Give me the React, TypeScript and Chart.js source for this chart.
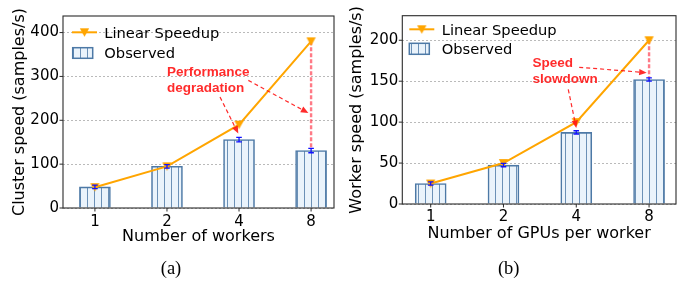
import React, { useEffect, useRef } from "react";
import { Chart, registerables } from "chart.js";
Chart.register(...registerables);

// ---------- Panel (a): cluster speed ----------
const workerCounts = ["1", "2", "4", "8"];
const clusterLinear = [47.5, 95, 190, 380];
const clusterObserved = [48, 95, 156, 131];
const clusterErr = [4, 4, 5, 5];
const clusterTicks = [0, 100, 200, 300, 400];

// ---------- Panel (b): worker speed ----------
const gpuCounts = ["1", "2", "4", "8"];
const workerLinear = [25, 50, 100, 200];
const workerObserved = [25, 47.5, 87.5, 152];
const workerErr = [2, 2, 2, 2];
const workerTicks = [0, 50, 100, 150, 200];

const ORANGE = "#ffa500";
const EDGE = "#4d79a6";
const FILL = "#eaf3fb";
const HATCH = "#6b90b6";
const RED = "rgba(255,20,20,0.9)";
const DROP = "rgba(255,40,60,0.62)";
const ERR = "#1010ff";
const SANS = "'DejaVu Sans', sans-serif";

type Arrow = { from: [number, number]; to: [number, number] };
interface Panel {
  labels: string[];
  linear: number[];
  observed: number[];
  err: number[];
  yTicks: number[];
  yMax: number;
  xMin: number;
  xMax: number;
  yTitle: string;
  xTitle: string;
  caption: string;
  captionX: number;
  width: number;
  yAxisWidth: number;
  padRight: number;
  padTop: number;
  plotBottom: number;
  yTitlePad: number;
  xTitlePadBottom: number;
  xTickPad: number;
  legend: {
    lineX1: number; lineX2: number; lineY: number; textX: number; text1Y: number;
    boxX: number; boxY: number; boxW: number; boxH: number; text2Y: number;
  };
  noteLines: string[];
  noteAt: [number, number];
  arrows: Arrow[];
  drop: { x: number; y1: number; y2: number };
}

const panelA: Panel = {
  labels: workerCounts,
  linear: clusterLinear,
  observed: clusterObserved,
  err: clusterErr,
  yTicks: clusterTicks,
  yMax: 437.8,
  xMin: -0.443,
  xMax: 3.318,
  yTitle: "Cluster speed (samples/s)",
  xTitle: "Number of workers",
  caption: "(a)",
  captionX: 171,
  width: 345,
  yAxisWidth: 63,
  padRight: 11,
  padTop: 16,
  plotBottom: 208,
  yTitlePad: 10.3,
  xTitlePadBottom: 1.5,
  xTickPad: -3.2,
  legend: { lineX1: 72, lineX2: 97, lineY: 32.3, textX: 104.3, text1Y: 37.7, boxX: 72.7, boxY: 47.7, boxW: 20, boxH: 10.6, text2Y: 57.7 },
  noteLines: ["Performance", "degradation"],
  noteAt: [1.0, 300],
  arrows: [
    { from: [1.736, 253], to: [1.99, 169.6] },
    { from: [2.129, 291], to: [2.962, 216.6] },
  ],
  drop: { x: 3, y1: 380, y2: 136 },
};

const panelB: Panel = {
  labels: gpuCounts,
  linear: workerLinear,
  observed: workerObserved,
  err: workerErr,
  yTicks: workerTicks,
  yMax: 230,
  xMin: -0.39,
  xMax: 3.37,
  yTitle: "Worker speed (samples/s)",
  xTitle: "Number of GPUs per worker",
  caption: "(b)",
  captionX: 163.7,
  width: 344,
  yAxisWidth: 57.3,
  padRight: 13,
  padTop: 15.7,
  plotBottom: 204,
  yTitlePad: 2.6,
  xTitlePadBottom: 4.8,
  xTickPad: -4.2,
  legend: { lineX1: 64.3, lineX2: 89.3, lineY: 29.3, textX: 96.7, text1Y: 35, boxX: 64.3, boxY: 43.3, boxW: 20, boxH: 11, text2Y: 54.3 },
  noteLines: ["Speed", "slowdown"],
  noteAt: [1.4, 167.3],
  arrows: [
    { from: [1.89, 140], to: [2.0, 92.8] },
    { from: [2.04, 167], to: [2.967, 160.4] },
  ],
  drop: { x: 3, y1: 200, y2: 154 },
};

const HEIGHT = 281;
const CHART_BOTTOM_PAD = 33;

function makeHatch(): CanvasPattern {
  const c = document.createElement("canvas");
  c.width = 7;
  c.height = 7;
  const g = c.getContext("2d")!;
  g.fillStyle = FILL;
  g.fillRect(0, 0, 7, 7);
  g.strokeStyle = HATCH;
  g.lineWidth = 1;
  g.beginPath();
  g.moveTo(3.5, 0);
  g.lineTo(3.5, 7);
  g.stroke();
  return g.createPattern(c, "repeat")!;
}

function makeMarker(): HTMLCanvasElement {
  const c = document.createElement("canvas");
  c.width = 11;
  c.height = 10;
  const g = c.getContext("2d")!;
  g.fillStyle = ORANGE;
  g.beginPath();
  g.moveTo(0.8, 1);
  g.lineTo(10.2, 1);
  g.lineTo(5.5, 9.5);
  g.closePath();
  g.fill();
  return c;
}

function drawArrow(ctx: CanvasRenderingContext2D, x1: number, y1: number, x2: number, y2: number) {
  const ang = Math.atan2(y2 - y1, x2 - x1);
  const hl = 7.5;
  const hw = 3.2;
  const bx = x2 - hl * Math.cos(ang);
  const by = y2 - hl * Math.sin(ang);
  ctx.save();
  ctx.strokeStyle = RED;
  ctx.lineWidth = 1.2;
  ctx.setLineDash([4, 3]);
  ctx.beginPath();
  ctx.moveTo(x1, y1);
  ctx.lineTo(bx, by);
  ctx.stroke();
  ctx.setLineDash([]);
  ctx.fillStyle = RED;
  ctx.beginPath();
  ctx.moveTo(x2, y2);
  ctx.lineTo(bx + hw * Math.sin(ang), by - hw * Math.cos(ang));
  ctx.lineTo(bx - hw * Math.sin(ang), by + hw * Math.cos(ang));
  ctx.closePath();
  ctx.fill();
  ctx.restore();
}

function buildChart(canvas: HTMLCanvasElement, p: Panel): Chart {
  const hatch = makeHatch();
  const marker = makeMarker();
  const idx = p.labels.map((_, i) => i);

  const plugin = {
    id: "decor" + p.caption,
    beforeDatasetsDraw(chart: any) {
      const { ctx, scales } = chart;
      const x = scales.x.getPixelForValue(p.drop.x);
      ctx.save();
      ctx.strokeStyle = DROP;
      ctx.lineWidth = 2.4;
      ctx.setLineDash([4, 2]);
      ctx.beginPath();
      ctx.moveTo(x, scales.y.getPixelForValue(p.drop.y1));
      ctx.lineTo(x, scales.y.getPixelForValue(p.drop.y2));
      ctx.stroke();
      ctx.restore();
    },
    afterDatasetsDraw(chart: any) {
      const { ctx, scales } = chart;
      const xs = scales.x;
      const ys = scales.y;
      ctx.save();
      ctx.fillStyle = RED;
      ctx.font = "bold 13.5px 'Liberation Sans', Arial, sans-serif";
      ctx.textAlign = "left";
      ctx.textBaseline = "alphabetic";
      const tx = xs.getPixelForValue(p.noteAt[0]);
      const ty = ys.getPixelForValue(p.noteAt[1]);
      p.noteLines.forEach((s, i) => ctx.fillText(s, tx, ty + i * 16));
      ctx.restore();
      p.arrows.forEach((a) =>
        drawArrow(
          ctx,
          xs.getPixelForValue(a.from[0]),
          ys.getPixelForValue(a.from[1]),
          xs.getPixelForValue(a.to[0]),
          ys.getPixelForValue(a.to[1])
        )
      );
      ctx.save();
      ctx.strokeStyle = ERR;
      ctx.lineWidth = 1.3;
      p.observed.forEach((v, i) => {
        const x = xs.getPixelForValue(i);
        const yt = ys.getPixelForValue(v + p.err[i]);
        const yb = ys.getPixelForValue(v - p.err[i]);
        ctx.beginPath();
        ctx.moveTo(x, yt);
        ctx.lineTo(x, yb);
        ctx.moveTo(x - 2.8, yt);
        ctx.lineTo(x + 2.8, yt);
        ctx.moveTo(x - 2.8, yb);
        ctx.lineTo(x + 2.8, yb);
        ctx.stroke();
      });
      ctx.restore();
    },
    afterDraw(chart: any) {
      const { ctx, chartArea: a, scales } = chart;
      ctx.save();
      ctx.strokeStyle = "#2b2b2b";
      ctx.lineWidth = 1.1;
      ctx.strokeRect(a.left, a.top, a.right - a.left, a.bottom - a.top);
      ctx.lineWidth = 1;
      ctx.beginPath();
      p.yTicks.forEach((t) => {
        const y = scales.y.getPixelForValue(t);
        ctx.moveTo(a.left - 3.5, y);
        ctx.lineTo(a.left, y);
      });
      idx.forEach((i) => {
        const x = scales.x.getPixelForValue(i);
        ctx.moveTo(x, a.bottom);
        ctx.lineTo(x, a.bottom + 3.5);
      });
      ctx.stroke();
      const L = p.legend;
      ctx.strokeStyle = ORANGE;
      ctx.lineWidth = 2;
      ctx.beginPath();
      ctx.moveTo(L.lineX1, L.lineY);
      ctx.lineTo(L.lineX2, L.lineY);
      ctx.stroke();
      ctx.drawImage(marker, (L.lineX1 + L.lineX2) / 2 - marker.width / 2, L.lineY - marker.height / 2);
      ctx.fillStyle = hatch;
      ctx.fillRect(L.boxX, L.boxY, L.boxW, L.boxH);
      ctx.strokeStyle = EDGE;
      ctx.lineWidth = 1.5;
      ctx.strokeRect(L.boxX, L.boxY, L.boxW, L.boxH);
      ctx.fillStyle = "#000";
      ctx.font = "14.7px " + SANS;
      ctx.textAlign = "left";
      ctx.textBaseline = "alphabetic";
      ctx.fillText("Linear Speedup", L.textX, L.text1Y);
      ctx.fillText("Observed", L.textX, L.text2Y);
      ctx.font = "18.5px 'Liberation Serif', 'Times New Roman', serif";
      ctx.textAlign = "center";
      ctx.fillText(p.caption, p.captionX, 274.2);
      ctx.restore();
    },
  };

  return new Chart(canvas, {
    type: "bar",
    data: {
      datasets: [
        {
          type: "line",
          label: "Linear Speedup",
          data: p.linear.map((v, i) => ({ x: i, y: v })),
          borderColor: ORANGE,
          backgroundColor: ORANGE,
          borderWidth: 2,
          pointStyle: marker as any,
          pointRadius: 5,
          order: 0,
        } as any,
        {
          type: "bar",
          label: "Observed",
          data: p.observed.map((v, i) => ({ x: i, y: v })),
          backgroundColor: hatch as any,
          borderColor: EDGE,
          borderWidth: 1.6,
          barThickness: 31,
          order: 1,
        } as any,
      ],
    },
    options: {
      responsive: false,
      animation: false,
      devicePixelRatio: 1,
      events: [],
      layout: { padding: { left: 0, right: p.padRight, top: p.padTop, bottom: CHART_BOTTOM_PAD } },
      plugins: { legend: { display: false }, tooltip: { enabled: false } },
      scales: {
        x: {
          type: "linear",
          offset: false,
          min: p.xMin,
          max: p.xMax,
          afterBuildTicks: (s: any) => {
            s.ticks = idx.map((v) => ({ value: v }));
          },
          afterFit: (s: any) => {
            s.height = HEIGHT - CHART_BOTTOM_PAD - p.plotBottom;
          },
          grid: { display: false },
          border: { display: false },
          ticks: {
            autoSkip: false,
            maxRotation: 0,
            padding: p.xTickPad,
            color: "#000",
            font: { family: SANS, size: 15 },
            callback: (v: any) => p.labels[Math.round(v)] ?? "",
          },
          title: {
            display: true,
            text: p.xTitle,
            color: "#000",
            font: { family: SANS, size: 16 },
            padding: { top: 0, bottom: p.xTitlePadBottom },
          },
        },
        y: {
          type: "linear",
          min: 0,
          max: p.yMax,
          afterBuildTicks: (s: any) => {
            s.ticks = p.yTicks.map((v) => ({ value: v }));
          },
          afterFit: (s: any) => {
            s.width = p.yAxisWidth;
          },
          grid: { color: "#b3b3b3", lineWidth: 0.9, drawTicks: false },
          border: { display: false, dash: [2, 2] },
          ticks: {
            padding: 4,
            color: "#000",
            font: { family: SANS, size: 15 },
          },
          title: {
            display: true,
            text: p.yTitle,
            color: "#000",
            font: { family: SANS, size: 16 },
            padding: { top: p.yTitlePad, bottom: 0 },
          },
        },
      },
    } as any,
    plugins: [plugin],
  });
}

function PanelChart({ panel, left }: { panel: Panel; left: number }) {
  const ref = useRef<HTMLCanvasElement | null>(null);
  useEffect(() => {
    if (!ref.current) return;
    const chart = buildChart(ref.current, panel);
    return () => chart.destroy();
  }, [panel]);
  return (
    <canvas
      ref={ref}
      width={panel.width}
      height={HEIGHT}
      style={{ position: "absolute", left, top: 0, width: panel.width, height: HEIGHT }}
    />
  );
}

export default function App() {
  return (
    <div style={{ position: "absolute", left: 0, top: 0, width: 689, height: HEIGHT, background: "#fff" }}>
      <PanelChart panel={panelA} left={0} />
      <PanelChart panel={panelB} left={345} />
    </div>
  );
}
